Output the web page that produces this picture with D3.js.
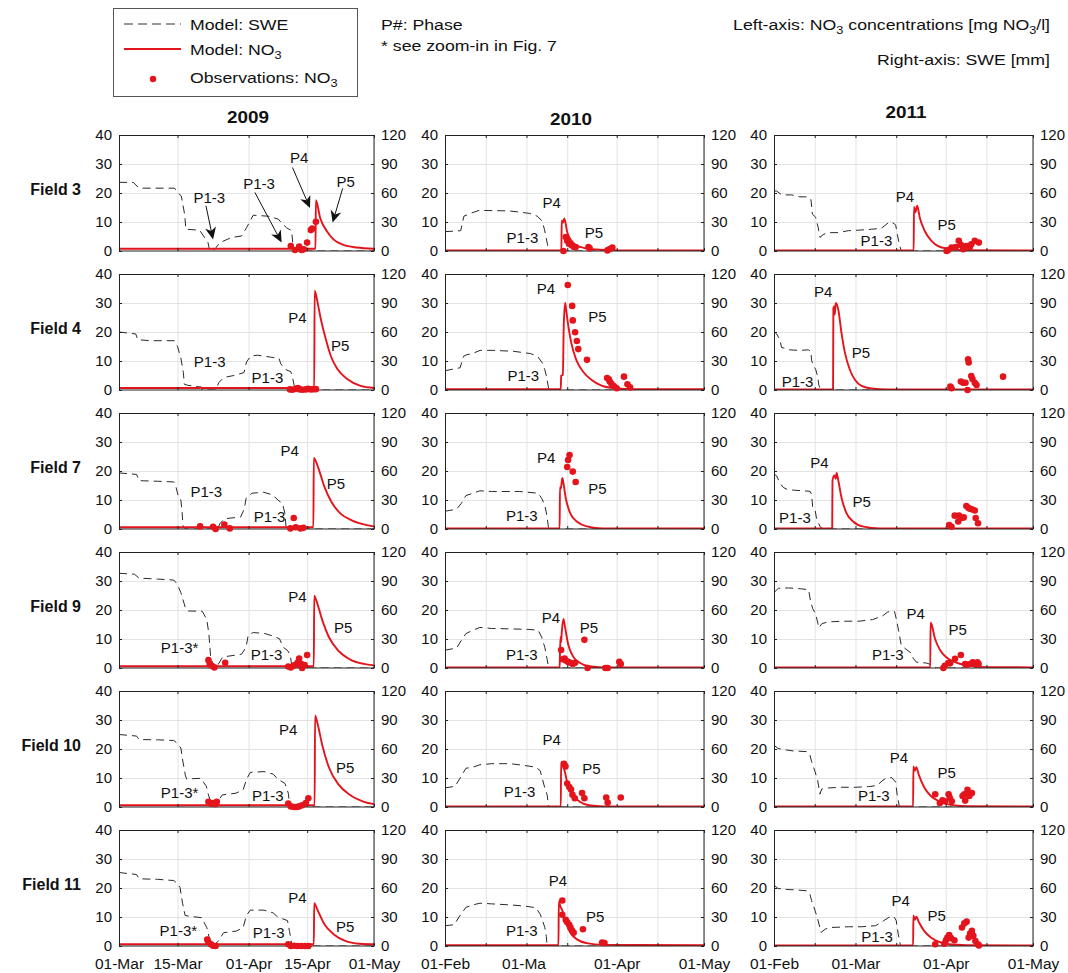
<!DOCTYPE html>
<html>
<head>
<meta charset="utf-8">
<script src="https://cdn.jsdelivr.net/npm/d3@7"></script>
<style>
  body { margin: 0; background: #fff; }
  svg { display: block; }
  text { font-family: "Liberation Sans", Arial, sans-serif; fill: #111; }
</style>
</head>
<body>
<svg id="chart" width="1068" height="973"></svg>
<script>
// ---- Data -------------------------------------------------------------
// x: days since the first date of the season window; NO3 in mg NO3/l (left axis); SWE in mm (right axis)
const years = ["2009", "2010", "2011"];
const fields = ["Field 3", "Field 4", "Field 7", "Field 9", "Field 10", "Field 11"];
const seasonStart = ["2009-03-01", "2010-02-01", "2011-02-01"];
const seasonEnd = ["2009-05-01", "2010-05-01", "2011-05-01"];
const no3Ticks = [0, 10, 20, 30, 40];
const sweTicks = [0, 30, 60, 90, 120];
const dateTickDates = [
  ["2009-03-01", "2009-03-15", "2009-04-01", "2009-04-15", "2009-05-01"],
  ["2010-02-01", "2010-03-01", "2010-04-01", "2010-05-01"],
  ["2011-02-01", "2011-03-01", "2011-04-01", "2011-05-01"]
];
const dateTickLabels = [
  ["01-Mar", "15-Mar", "01-Apr", "15-Apr", "01-May"],
  ["01-Feb", "01-Ma", "01-Apr", "01-May"],
  ["01-Feb", "01-Mar", "01-Apr", "01-May"]
];

// Field 3
const sweF3_2009 = [[0,71],[3.4,71],[4.8,65],[13.3,65],[14.1,60],[14.9,57],[15.7,38],[16.0,22.5],[19.3,21.5],[21.3,8.6],[21.7,0],[22.9,1.7],[24.1,8.6],[26.9,14],[29.3,15.5],[30.5,24],[32.1,37],[35.7,36],[38.1,33],[38.9,29],[40.1,24],[41.3,21],[41.7,2],[43.3,0],[61,0]];
const no3F3_2009 = [[0,0.8],[47.0,0.8],[47.1,17.5],[48.1,11.5],[49.7,6.9],[51.3,4],[53.7,2.1],[56.9,1.2],[61,0.8]];
const obsF3_2009 = [[41.1,1.7],[42.1,0.35],[43.1,1.5],[43.7,0.35],[44.2,0.6],[45.0,2.9],[45.9,7.2],[46.2,7.7],[47.1,10.1]];
const sweF3_2010 = [[0,20],[5.4,21],[6.5,36],[8.8,39],[11.7,42],[22,41.5],[28.9,39],[31.7,36],[33.4,31],[34.2,22],[35.2,7],[35.7,0],[89,0]];
const no3F3_2010 = [[0,0.2],[40.0,0.2],[40.1,10.5],[40.6,9.8],[41.0,11.2],[42.0,6.5],[43.5,3.5],[45,2],[48,1],[52,0.5],[60,0.2],[89,0.2]];
const obsF3_2010 = [[40.7,0],[41.5,4.8],[42,3.5],[42.6,2.5],[43.5,2],[44.3,1.4],[44.9,1.4],[49.3,1.4],[49.7,0.9],[55.8,0.2],[56.6,0.7],[57.5,1.2]];
const sweF3_2011 = [[0,62],[0.9,62],[2.7,58],[6.1,58],[8.9,56],[11.8,56],[12.7,53],[13.2,38],[14.3,35],[15.2,24],[15.8,14],[16.9,17],[18.6,19],[22,19],[25.5,21],[28.9,21.5],[33.5,22.5],[36.9,23.5],[39.2,29],[40.4,30],[41.8,27],[42.4,17],[43.2,5],[43.8,0],[89,0]];
const no3F3_2011 = [[0,0.2],[48.0,0.2],[48.1,15.2],[48.6,13.3],[49.2,15.6],[50.1,11.5],[51.8,6.9],[54.1,3.5],[56.4,1.7],[59.8,0.8],[65.6,0.3],[89,0.2]];
const obsF3_2011 = [[59.3,0],[59.8,0.35],[61,1.15],[62.4,1.4],[63.5,3.5],[64.2,2.1],[65,0.6],[66.1,1.7],[67.3,1.4],[67.8,2.3],[69,3.5],[70.4,2.9]];

// Field 4
const sweF4_2009 = [[0,60],[4.0,58],[4.5,52],[7.6,51],[13.3,51],[14.0,45],[14.8,33],[15.4,18],[15.6,6],[16.3,5],[19.5,3],[19.9,0],[23.1,0],[23.9,7.8],[25.1,13],[27.5,15],[29.9,18],[30.5,29],[31.5,35],[33.1,36],[36.3,34],[38.3,32.6],[38.7,27],[39.9,21],[41.1,19],[41.5,13],[41.9,5],[42.0,0],[61,0]];
const no3F4_2009 = [[0,0.7],[19.3,0.7],[19.5,1.0],[19.8,0.7],[46.7,0.7],[46.8,34.2],[47.4,30.9],[48.2,25],[49.4,17.9],[50.6,12],[52.2,7.3],[54.6,3.8],[57.8,1.4],[61,0.7]];
const obsF4_2009 = [[40.9,0.2],[41.5,0.1],[42.3,0.4],[42.8,0.7],[43.3,0.2],[43.9,0.1],[44.7,0.2],[45.2,0.4],[45.9,0.2],[46.5,0.3],[47.1,0.3]];
const sweF4_2010 = [[0,20],[3.5,22],[5.2,23],[6.4,35],[7.5,36.5],[9.2,37.5],[12.1,41],[16.8,41],[23.7,40],[29.5,37.6],[31.8,34.8],[33.5,27.8],[34.3,20.9],[34.9,13.9],[35.5,3.5],[35.8,0],[89,0]];
const no3F4_2010 = [[0,0.3],[39.8,0.3],[39.9,4.9],[40.5,5.2],[40.8,22],[41.3,30.1],[41.6,27.9],[42.2,23.2],[43.4,16.2],[45.1,10.4],[47.4,6.4],[50.3,3.5],[53.8,1.5],[58.4,0.6],[65.3,0.3],[89,0.3]];
const obsF4_2010 = [[42.2,36.2],[43.7,29],[43.9,24],[44.7,19.9],[45.3,16.9],[45.8,14.1],[48.8,10.4],[55.7,4.1],[56.3,3.7],[56.6,2.9],[57.2,2.1],[58.0,1.4],[59.0,0.6],[61.5,4.6],[62.7,2],[63.6,0.9]];
const sweF4_2011 = [[0,60.5],[0.9,58],[2.0,52],[2.6,44],[3.8,43],[5.5,41.5],[8.4,41],[11.8,41.5],[12.7,40],[12.9,31],[13.5,25],[14.3,21.5],[15.0,14],[15.4,5],[16.1,0],[89,0]];
const no3F4_2011 = [[0,0.2],[20.3,0.2],[20.4,28.2],[20.7,28.8],[20.9,26],[21.2,30],[22.1,27.7],[23.2,19.6],[24.4,12.7],[26.1,6.9],[27.8,3.5],[30.1,1.4],[33.5,0.5],[39.2,0.2],[89,0.2]];
const obsF4_2011 = [[60.6,1.2],[61.0,0.6],[64.2,2.9],[65.0,2.5],[65.8,2.5],[66.5,0],[66.7,10.6],[66.9,9.5],[67.8,4.8],[68.2,3.8],[69.0,2.5],[69.6,1.7],[78.7,4.6]];

// Field 7
const sweF7_2009 = [[0,58],[4.2,56.5],[4.8,50],[9.2,49.4],[13.1,48.7],[13.6,44],[14.2,33.5],[14.8,30],[15.1,17.6],[15.3,3.5],[15.9,0],[23.6,0],[24.1,5.3],[25.2,10.6],[29.1,12.4],[30.0,21.2],[30.4,31.8],[31.8,37],[34.6,38],[36.8,35.3],[38.0,30],[39.1,26.5],[39.7,15.9],[40.0,0],[61,0]];
const no3F7_2009 = [[0,0.6],[46.5,0.6],[46.6,24.5],[47.5,21.8],[49.1,14.7],[50.8,9.4],[53.0,5.3],[55.8,2.9],[59.1,1.4],[61,0.9]];
const obsF7_2009 = [[19.4,0.9],[22.5,0.8],[23.1,0],[25.2,1.5],[26.5,0.2],[41.0,0.2],[41.8,3.8],[42.3,0.6],[43.4,0.2],[44.1,0.4]];
const sweF7_2010 = [[0,18.4],[4.0,20.5],[5.6,26.5],[7.2,34.6],[9.6,37],[12.0,39.5],[16.0,38.8],[25.6,38.8],[32.0,37],[33.2,31.8],[34.3,24.7],[35.1,12.4],[35.6,0],[89,0]];
const no3F7_2010 = [[0,0.2],[39.4,0.2],[39.5,14.4],[39.8,13.9],[40.3,17.6],[40.7,15.8],[41.5,10.6],[43.1,5.3],[45.5,2.4],[48.7,0.9],[54.3,0.2],[89,0.2]];
const obsF7_2010 = [[42.0,21.4],[42.3,23.8],[42.8,25.5],[43.9,19.8],[44.9,16.2]];
const sweF7_2011 = [[0,57],[0.9,55],[2.1,47],[3.2,43],[4.3,41.3],[6.6,40.2],[10.0,39.5],[12.4,39],[12.9,36],[13.3,22.6],[14.1,20],[14.6,11.3],[15.8,2.5],[16.9,0],[89,0]];
const no3F7_2011 = [[0,0.2],[20.0,0.2],[20.1,16.7],[20.7,18.5],[21.2,17.3],[21.5,19.3],[22.1,16.7],[23.2,10.8],[24.9,5.5],[27.2,2.6],[30.7,0.8],[36.4,0.2],[89,0.2]];
const obsF7_2011 = [[60.2,1.4],[61.0,0.8],[62.1,4.6],[63.3,2.6],[63.6,4.6],[64.4,3.8],[65.2,4.0],[66.1,7.9],[66.8,7.3],[67.3,7.0],[68.2,6.7],[69.0,6.4],[69.3,3.8],[70.1,2]];

// Field 9
const sweF9_2009 = [[0,98],[3.7,97],[4.8,93],[9.2,92],[13.1,91],[13.9,87],[14.8,78],[15.9,62],[16.5,59],[19.9,58.7],[20.4,55],[21.0,50],[21.5,35.6],[21.9,12.5],[22.6,1.8],[23.2,0],[23.7,3.5],[24.8,11.4],[29.3,14.2],[30.4,21.4],[30.9,33.8],[32.1,36.7],[34.9,35.6],[37.1,32.7],[38.4,30.2],[39.3,21.4],[40.4,17.8],[41.0,12.5],[41.4,0],[61,0]];
const no3F9_2009 = [[0,0.6],[46.6,0.6],[46.7,24.9],[47.1,23.7],[48.6,16.6],[50.2,10.7],[52.5,5.9],[55.2,3],[58.6,1.4],[61,0.9]];
const obsF9_2009 = [[21.4,2.7],[21.7,1.4],[22.2,0.8],[22.8,0.2],[25.4,1.8],[40.5,0.5],[41.1,0.2],[41.9,0.9],[42.7,1.8],[43.1,3.3],[43.6,1.4],[43.8,0],[44.4,1.0],[45.0,4.5]];
const sweF9_2010 = [[0,18.5],[4.0,20.6],[5.6,28.5],[7.2,35.6],[9.6,39.1],[12.0,42],[16.0,40.9],[22.4,40.5],[28.8,39.9],[32.0,39.1],[33.2,32],[34.3,21.4],[35.1,8.9],[35.6,0],[89,0]];
const no3F9_2010 = [[0,0.2],[39.4,0.2],[39.5,4.7],[39.7,10.7],[39.9,8.9],[40.1,12],[40.7,16.9],[41.2,14.4],[42.3,8.3],[43.9,4.2],[46.3,1.8],[49.5,0.6],[54.3,0.2],[89,0.2]];
const obsF9_2010 = [[39.9,6.2],[40.4,3],[41.1,3.3],[41.5,2.6],[42.3,2.1],[43.1,1.8],[43.9,1.4],[44.7,1.8],[47.9,9.7],[49.0,0],[55.1,0],[55.9,0],[59.9,2.1],[60.4,1.4]];
const sweF9_2011 = [[0,78],[1.5,82.5],[5.0,82.8],[9.0,82],[11.9,81],[12.5,70],[13.3,61.4],[14.4,55.2],[15.4,41.6],[16.5,46],[18.8,47.7],[23.5,48.4],[29.2,48.4],[33.9,50.1],[37.3,53.9],[39.1,58],[41.4,58.6],[42.0,51],[42.9,37.5],[43.7,23.9],[44.9,20.5],[47.2,15.3],[47.8,10.2],[48.9,6.1],[52.4,5.1],[54.1,3.4],[55.8,0],[89,0]];
const no3F9_2011 = [[0,0.2],[53.7,0.2],[53.8,15.6],[54.0,15.4],[55.3,10.2],[57.0,6.3],[59.3,3.6],[62.2,2],[66.2,0.9],[70.9,0.4],[89,0.2]];
const obsF9_2011 = [[58.2,0],[58.7,0.8],[59.9,1.7],[60.5,1.6],[62.2,3.2],[64.2,4.5],[65.7,1.4],[66.2,1.1],[67.4,1.4],[68.3,2],[69.1,1.6],[69.9,2],[70.3,1.4]];

// Field 10
const sweF10_2009 = [[0,75],[4.2,73.4],[4.8,69.8],[9.2,69.5],[13.1,68.8],[13.9,66],[14.8,61],[15.3,46.6],[15.9,32.2],[16.2,29],[19.7,29.7],[20.3,25],[20.9,21.5],[21.4,12.5],[22.3,0],[23.6,5.4],[24.7,12.5],[28.0,14.3],[29.7,17.9],[30.5,28.7],[31.4,35.8],[34.7,36.6],[36.9,34],[38.0,28.7],[39.7,24.4],[40.5,14.3],[40.9,0],[61,0]];
const no3F10_2009 = [[0,0.6],[46.8,0.6],[46.9,31.6],[47.5,28.7],[48.6,21.5],[50.2,13.7],[52.5,7.8],[55.2,4.2],[58.6,1.8],[61,1.0]];
const obsF10_2009 = [[21.4,1.8],[21.9,1.2],[22.5,1.4],[23.1,1],[23.4,1.8],[40.5,1.2],[41.1,0.2],[41.9,0],[42.5,0],[43.1,0.2],[43.8,0.6],[44.7,1.4],[45.3,3.0]];
const sweF10_2010 = [[0,19.7],[3.5,21.5],[5.6,32],[7.2,40.1],[9.6,41.2],[12.0,43.7],[16.0,44.8],[22.4,44.8],[27.2,43],[31.2,41.2],[32.7,37.6],[33.5,28.7],[34.3,19.7],[35.1,12.5],[35.6,0],[89,0]];
const no3F10_2010 = [[0,0.2],[39.8,0.2],[39.9,15.5],[40.4,14.9],[41.1,12.5],[42.3,7.2],[43.9,4.2],[46.3,1.8],[49.5,0.6],[54.3,0.2],[89,0.2]];
const obsF10_2010 = [[40.9,14.9],[41.4,14],[42.0,8.1],[42.7,6.9],[43.3,6],[43.8,4.2],[44.6,3],[47.1,4.8],[47.9,3],[55.4,3.3],[55.9,1.5],[60.4,3.3]];
const sweF10_2011 = [[0,64],[1.4,60.6],[3.1,59.5],[6.6,58],[11.2,57.3],[12.3,54.5],[12.9,47.3],[14.1,36.6],[15.0,27.6],[15.8,13.3],[16.4,18.6],[18.7,19.7],[23.3,20.4],[27.9,20.4],[32.5,21.1],[35.4,22.2],[37.1,26.9],[38.3,29.4],[40.4,30.5],[41.8,25.8],[42.3,13.3],[43.1,0],[89,0]];
const no3F10_2011 = [[0,0.2],[47.8,0.2],[47.9,14],[48.4,12.5],[48.9,13.7],[49.8,11],[51.6,6.8],[53.9,3.8],[56.7,2],[60.2,0.8],[66.0,0.3],[89,0.2]];
const obsF10_2011 = [[55.4,4.4],[57.0,1.4],[57.9,2.3],[58.8,2.0],[60.0,4.4],[60.4,3.2],[61.1,2.0],[64.8,3.8],[65.4,4.4],[65.7,2.2],[66.5,5.9],[67.1,3.8],[68.0,4.8]];

// Field 11
const sweF11_2009 = [[0,76],[4.2,74],[4.8,69.5],[9.2,69],[13.1,67.7],[13.9,65],[14.6,60.5],[15.2,44.3],[15.8,31.7],[16.5,31],[19.9,29.2],[20.4,24],[21.0,19.1],[21.5,10.1],[22.4,0],[23.7,4.7],[25.0,13.7],[28.1,15.5],[29.7,19.1],[30.5,31.7],[31.4,37.1],[34.7,37.1],[36.9,34.2],[38.0,29.9],[40.3,26.3],[40.8,15],[41.4,0],[61,0]];
const no3F11_2009 = [[0,0.6],[46.6,0.6],[46.7,14.8],[47.5,12.4],[49.1,7.6],[51.4,4],[54.1,1.8],[57.5,0.8],[61,0.6]];
const obsF11_2009 = [[21.1,2.2],[21.4,1.3],[22.0,0.6],[22.5,0.1],[23.1,0],[40.5,0.6],[41.1,0],[41.9,0.1],[42.7,0],[43.6,0],[44.5,0],[45.3,0]];
const sweF11_2010 = [[0,21],[3.2,22],[4.8,30],[7.2,40],[9.6,42.5],[12.0,44.3],[16.0,43.6],[22.4,42.5],[27.2,41.4],[31.2,39.6],[32.7,33],[33.5,26.3],[34.3,19.1],[34.8,10.1],[35.1,0],[89,0]];
const no3F11_2010 = [[0,0.3],[39.0,0.3],[39.1,15.4],[39.6,13.8],[40.3,12.3],[41.5,8.2],[43.1,4.6],[45.5,2.2],[48.7,1],[54.3,0.4],[89,0.3]];
const obsF11_2010 = [[40.3,15.7],[40.3,10.8],[41.5,9],[42.0,8.2],[42.7,7.3],[43.1,6.4],[43.6,5.4],[44.2,4.6],[47.4,5.8],[54.0,1.2],[54.8,1.0]];
const sweF11_2011 = [[0,63],[1.4,59.5],[4.8,58.4],[7.7,58],[11.2,57.1],[12.3,54.3],[12.9,47.2],[14.1,36.7],[15.0,28],[16.2,14],[17.6,17.5],[19.9,19.2],[25.6,19.9],[30.2,19.9],[34.9,21],[37.7,26.2],[39.5,29.7],[41.2,30.4],[42.0,26.2],[42.7,12.2],[43.5,0],[89,0]];
const no3F11_2011 = [[0,0.2],[47.8,0.2],[47.9,10.5],[48.4,9],[48.9,10.1],[49.8,8.2],[51.6,5.2],[53.9,2.9],[56.7,1.4],[60.2,0.6],[66.0,0.3],[89,0.2]];
const obsF11_2011 = [[55.4,0.6],[58.5,0.8],[59.1,2],[59.6,2.9],[60.2,3.8],[60.8,2.7],[62.0,2],[64.6,6.4],[65.4,7.8],[66.2,8.4],[66.9,2.9],[67.4,4.3],[68.0,5.2],[68.5,3.5],[69.2,1.7],[70.0,0.6],[70.4,0.2]];

// Phase annotations: [text, day, NO3 value at text centre]
const phaseF3_2009 = [["P1-3",21.6,18.2],["P1-3",33.5,23.3],["P4",43.1,32.3],["P5",54.2,23.9]];
const phaseF3_2010 = [["P4",36.7,16.7],["P1-3",26.6,4.6],["P5",51.2,6.3]];
const phaseF3_2011 = [["P4",45,18.7],["P1-3",35.2,3.7],["P5",59.3,9.2]];
const phaseF4_2009 = [["P1-3",21.7,9.7],["P1-3",35.5,4.1],["P4",42.7,25],["P5",52.9,15.2]];
const phaseF4_2010 = [["P4",34.7,35],["P5",52.4,25.3],["P1-3",26.9,4.9]];
const phaseF4_2011 = [["P4",16.9,34],["P5",29.9,12.9],["P1-3",8.1,2.9]];
const phaseF7_2009 = [["P1-3",20.9,12.9],["P1-3",36.0,4.1],["P4",40.8,27.1],["P5",51.9,15.5]];
const phaseF7_2010 = [["P4",34.8,24.4],["P5",52.4,13.9],["P1-3",26.4,4.7]];
const phaseF7_2011 = [["P4",15.6,22.8],["P5",30.1,9.4],["P1-3",7.2,4]];
const phaseF9_2009 = [["P1-3*",14.5,6.9],["P1-3",35.3,4.7],["P4",42.7,24.6],["P5",53.6,14]];
const phaseF9_2010 = [["P4",36.4,17.5],["P5",49.5,14],["P1-3",26.4,4.7]];
const phaseF9_2011 = [["P4",48.7,18.75],["P5",63.1,13.1],["P1-3",39.1,4.5]];
const phaseF10_2009 = [["P1-3*",14.5,4.8],["P1-3",35.6,3.9],["P4",40.5,26.5],["P5",54.1,13.7]];
const phaseF10_2010 = [["P4",36.7,23.3],["P5",50.3,13.1],["P1-3",25.6,5.4]];
const phaseF10_2011 = [["P4",42.9,16.9],["P5",59.3,11.9],["P1-3",34.3,3.8]];
const phaseF11_2009 = [["P1-3*",14.2,5.2],["P1-3",35.8,4.6],["P4",42.7,16.6],["P5",54.1,6.6]];
const phaseF11_2010 = [["P4",38.8,22.6],["P5",51.6,10.2],["P1-3",26.4,5.2]];
const phaseF11_2011 = [["P4",43.5,15.7],["P5",55.9,10.5],["P1-3",35.4,3.3]];
// Pointer arrows in the Field 3 / 2009 panel: [fromDay, fromValue, toDay, toValue]
const arrowsF3_2009 = [[20.8,15.6,22.5,4.0],[32.5,20.2,38.9,2.9],[41.5,28.8,45.7,14.8],[53.5,21.6,51.1,9.8]];

const panelRows = [
  [[sweF3_2009, no3F3_2009, obsF3_2009, phaseF3_2009, arrowsF3_2009], [sweF3_2010, no3F3_2010, obsF3_2010, phaseF3_2010], [sweF3_2011, no3F3_2011, obsF3_2011, phaseF3_2011]],
  [[sweF4_2009, no3F4_2009, obsF4_2009, phaseF4_2009], [sweF4_2010, no3F4_2010, obsF4_2010, phaseF4_2010], [sweF4_2011, no3F4_2011, obsF4_2011, phaseF4_2011]],
  [[sweF7_2009, no3F7_2009, obsF7_2009, phaseF7_2009], [sweF7_2010, no3F7_2010, obsF7_2010, phaseF7_2010], [sweF7_2011, no3F7_2011, obsF7_2011, phaseF7_2011]],
  [[sweF9_2009, no3F9_2009, obsF9_2009, phaseF9_2009], [sweF9_2010, no3F9_2010, obsF9_2010, phaseF9_2010], [sweF9_2011, no3F9_2011, obsF9_2011, phaseF9_2011]],
  [[sweF10_2009, no3F10_2009, obsF10_2009, phaseF10_2009], [sweF10_2010, no3F10_2010, obsF10_2010, phaseF10_2010], [sweF10_2011, no3F10_2011, obsF10_2011, phaseF10_2011]],
  [[sweF11_2009, no3F11_2009, obsF11_2009, phaseF11_2009], [sweF11_2010, no3F11_2010, obsF11_2010, phaseF11_2010], [sweF11_2011, no3F11_2011, obsF11_2011, phaseF11_2011]]
];

// ---- Layout ------------------------------------------------------------
const colX = [119, 445, 774];
const colW = [255, 259, 259];
const rowY = [135, 274, 413, 552, 691, 830];
const rowH = 116;
const titleX = [248, 571, 906];
const titleY = [117, 119, 112];
const RED = "#e4141c";
const FONT = 15;
const WIDE = 1.18;   // horizontal stretch of the header lettering

const svg = d3.select("#chart");
const parseDay = d3.utcParse("%Y-%m-%d");
const DAY = 86400000;

// Text with "NO3" written as NO + subscript 3
function richText(sel, str) {
  let shift = 0;
  str.split(/(NO3)/).forEach(part => {
    if (!part) return;
    if (part === "NO3") {
      const t = sel.append("tspan").text("NO");
      if (shift) { t.attr("dy", shift); shift = 0; }
      sel.append("tspan").attr("dy", 4).attr("font-size", "0.72em").text("3");
      shift = -4;
    } else {
      const t = sel.append("tspan").text(part);
      if (shift) { t.attr("dy", shift); shift = 0; }
    }
  });
}
// Header lettering, widened horizontally about its anchor point
function wideText(x, y, anchor, size, str, bold) {
  const t = svg.append("g").attr("transform", `translate(${x},${y}) scale(${WIDE},1)`)
    .append("text").attr("dy", "0.35em").attr("text-anchor", anchor).attr("font-size", size);
  if (bold) t.attr("font-weight", "bold");
  richText(t, str);
  return t;
}

// ---- Header: legend and notes -------------------------------------------
const legend = svg.append("g");
legend.append("rect").attr("x", 113.5).attr("y", 8.5).attr("width", 244).attr("height", 88)
  .attr("fill", "#fff").attr("stroke", "#555").attr("stroke-width", 1);
legend.append("line").attr("x1", 124).attr("x2", 181).attr("y1", 24).attr("y2", 24)
  .attr("stroke", "#333").attr("stroke-width", 1.2).attr("stroke-dasharray", "9,5");
legend.append("line").attr("x1", 124).attr("x2", 181).attr("y1", 49).attr("y2", 49)
  .attr("stroke", RED).attr("stroke-width", 2);
legend.append("circle").attr("cx", 153).attr("cy", 79).attr("r", 3.2).attr("fill", RED);
[["Model: SWE", 25], ["Model: NO3", 50], ["Observations: NO3", 78]].forEach(([t, y]) => {
  wideText(190, y, "start", FONT, t);
});

wideText(381, 25, "start", FONT, "P#: Phase");
wideText(381, 46, "start", FONT, "* see zoom-in in Fig. 7");
wideText(1050, 25, "end", FONT, "Left-axis: NO3 concentrations [mg NO3/l]");
wideText(1050, 60, "end", FONT, "Right-axis: SWE [mm]");

years.forEach((yr, c) => wideText(titleX[c], titleY[c], "middle", 16, yr, true));
fields.forEach((f, r) => {
  svg.append("text").attr("x", 81).attr("y", rowY[r] + rowH / 2 - 4).attr("dy", "0.35em").attr("text-anchor", "end")
    .attr("font-size", 16).attr("font-weight", "bold").text(f);
});

// ---- Panels --------------------------------------------------------------
function styleAxis(g, size) {
  g.select(".domain").remove();
  g.selectAll(".tick line").attr("stroke", "#222");
  g.selectAll(".tick text").attr("font-size", size || FONT).attr("fill", "#111")
    .attr("font-family", '"Liberation Sans", Arial, sans-serif');
}

panelRows.forEach((row, r) => {
  row.forEach(([swe, no3, obs, phases, arrows], c) => {
    const w = colW[c], h = rowH;
    const start = parseDay(seasonStart[c]), end = parseDay(seasonEnd[c]);
    const x = d3.scaleUtc().domain([start, end]).range([0, w]);
    const xd = d => x(new Date(start.getTime() + d * DAY));
    const yL = d3.scaleLinear().domain([0, 40]).range([h, 0]);
    const yR = d3.scaleLinear().domain([0, 120]).range([h, 0]);
    const gridDates = d3.utcDay.range(start, new Date(end.getTime() + DAY))
      .filter(d => d.getUTCDate() === 1 || d.getUTCDate() === 15);

    const g = svg.append("g").attr("transform", `translate(${colX[c]},${rowY[r]})`);
    const clipId = `clip-${r}-${c}`;
    g.append("clipPath").attr("id", clipId).append("rect").attr("width", w).attr("height", h);

    // grid
    const gx = g.append("g").attr("transform", `translate(0,${h})`)
      .call(d3.axisBottom(x).tickValues(gridDates).tickSize(-h).tickFormat(""));
    gx.select(".domain").remove();
    gx.selectAll("line").attr("stroke", "#e3e3e3");
    const gy = g.append("g").call(d3.axisLeft(yL).tickValues([10, 20, 30]).tickSize(-w).tickFormat(""));
    gy.select(".domain").remove();
    gy.selectAll("line").attr("stroke", "#e3e3e3");

    const plot = g.append("g").attr("clip-path", `url(#${clipId})`);
    // SWE (right axis)
    plot.append("path").datum(swe)
      .attr("d", d3.line().x(d => xd(d[0])).y(d => yR(d[1])))
      .attr("fill", "none").attr("stroke", "#2a2a2a").attr("stroke-width", 1).attr("stroke-dasharray", "8,5");
    // modelled NO3 (left axis)
    plot.append("path").datum(no3)
      .attr("d", d3.line().x(d => xd(d[0])).y(d => yL(d[1])).curve(d3.curveMonotoneX))
      .attr("fill", "none").attr("stroke", RED).attr("stroke-width", 1.9).attr("stroke-linejoin", "round");

    // axes with inward ticks
    const ax = d3.axisBottom(x).tickValues(gridDates).tickSize(-3).tickPadding(12).tickFormat(d => {
      if (r !== panelRows.length - 1) return "";
      const i = dateTickDates[c].indexOf(d3.utcFormat("%Y-%m-%d")(d));
      return i < 0 ? "" : dateTickLabels[c][i];
    });
    const gBottom = g.append("g").attr("transform", `translate(0,${h})`).call(ax);
    styleAxis(gBottom, 15.5);
    // "01-Ma" keeps the left edge of a centred "01-Mar"
    gBottom.selectAll(".tick text").filter(function () { return this.textContent === "01-Ma"; }).attr("dx", -3);
    styleAxis(g.append("g").call(d3.axisTop(x).tickValues(gridDates).tickSize(-3).tickFormat("")));
    styleAxis(g.append("g").call(d3.axisLeft(yL).tickValues(no3Ticks).tickSize(-3).tickPadding(7)));
    styleAxis(g.append("g").attr("transform", `translate(${w},0)`)
      .call(d3.axisRight(yR).tickValues(sweTicks).tickSize(-3).tickPadding(7)));
    g.append("rect").attr("x", 0.5).attr("y", 0.5).attr("width", w - 0.5).attr("height", h - 0.5)
      .attr("fill", "none").attr("stroke", "#222").attr("stroke-width", 1);

    // observed NO3
    g.append("g").selectAll("circle").data(obs).join("circle")
      .attr("cx", d => xd(d[0])).attr("cy", d => yL(d[1])).attr("r", 3.3).attr("fill", RED);

    // phase labels
    g.append("g").selectAll("text").data(phases).join("text")
      .attr("x", d => xd(d[1])).attr("y", d => yL(d[2])).attr("dy", "0.35em")
      .attr("text-anchor", "middle").attr("font-size", FONT).text(d => d[0]);

    // pointer arrows
    if (arrows) {
      arrows.forEach(([d1, v1, d2, v2]) => {
        const x1 = xd(d1), y1 = yL(v1), x2 = xd(d2), y2 = yL(v2);
        const ang = Math.atan2(y2 - y1, x2 - x1);
        const L = 12, W = 5.5, back = 3.5;
        const ca = Math.cos(ang), sa = Math.sin(ang);
        const bx = x2 - L * ca, by = y2 - L * sa;
        g.append("line").attr("x1", x1).attr("y1", y1).attr("x2", x2 - (L - back) * ca).attr("y2", y2 - (L - back) * sa)
          .attr("stroke", "#111").attr("stroke-width", 1);
        const pts = [
          [x2, y2],
          [bx - W * sa, by + W * ca],
          [x2 - (L - back) * ca, y2 - (L - back) * sa],
          [bx + W * sa, by - W * ca]
        ];
        g.append("path").attr("d", "M" + pts.map(p => p.join(",")).join("L") + "Z").attr("fill", "#111");
      });
    }
  });
});
</script>
</body>
</html>
